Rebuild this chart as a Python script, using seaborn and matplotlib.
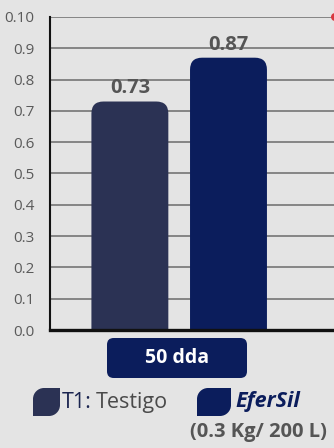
import matplotlib
matplotlib.use("Agg")
import matplotlib.pyplot as plt
import seaborn as sns
import pandas as pd
from matplotlib.patches import FancyBboxPatch, PathPatch, Circle
from matplotlib.path import Path
from matplotlib.transforms import Affine2D

categories = ["T1: Testigo", "EferSil"]
values = [0.73, 0.87]
value_labels = ["0.73", "0.87"]
yticks = [0.0, 0.1, 0.2, 0.3, 0.4, 0.5, 0.6, 0.7, 0.8, 0.9, 1.0]
ytick_labels = ["0.0", "0.1", "0.2", "0.3", "0.4", "0.5", "0.6", "0.7", "0.8", "0.9", "0.10"]
group_label = "50 dda"
dose_label = "(0.3 Kg/ 200 L)"
colors = ["#2b3254", "#0b1d5c"]
bg = "#e4e4e4"

sns.set_theme(style="white")
plt.rcParams["font.family"] = ["Open Sans", "DejaVu Sans"]

W, H = 334, 448
fig = plt.figure(figsize=(W/100, H/100), dpi=100, facecolor=bg)
ax = fig.add_axes([50/W, 1-330/H, 1-50/W, (330-17)/H])
ax.set_facecolor(bg)

df = pd.DataFrame({"cat": categories, "val": values})
sns.barplot(data=df, x="cat", y="val", hue="cat", palette=colors, width=0.78,
            legend=False, ax=ax, zorder=3, saturation=1)

ax.set_xlim(-0.81, 2.07)
ax.set_ylim(0, 1.0)
ax.set_yticks(yticks)
ax.set_yticklabels(ytick_labels, color="#5a5a5a", fontsize=11)
ax.tick_params(axis="y", length=0, pad=11)
ax.set_xticks([])
ax.set_xlabel("")
ax.set_ylabel("")
ax.yaxis.grid(True, color="#858585", lw=1.4, zorder=0)
ax.set_axisbelow(True)
for s in ["top", "right"]:
    ax.spines[s].set_visible(False)
ax.spines["left"].set_color("#111111")
ax.spines["left"].set_linewidth(1.5)
ax.spines["bottom"].set_color("#111111")
ax.spines["bottom"].set_linewidth(2.4)
ax.spines["bottom"].set_zorder(5)

# round bar tops
fig.canvas.draw()
bbox = ax.get_window_extent()
xr = ax.get_xlim()[1] - ax.get_xlim()[0]
yr = ax.get_ylim()[1] - ax.get_ylim()[0]
x_per_px = xr / bbox.width
y_per_px = yr / bbox.height
aspect = y_per_px / x_per_px
for p, lab in zip(list(ax.patches), value_labels):
    x0, w, h = p.get_x(), p.get_width(), p.get_height()
    fc = p.get_facecolor()
    p.remove()
    r = 12 * x_per_px
    fb = FancyBboxPatch((x0, -0.1), w, h + 0.1,
                        boxstyle=f"round,pad=0,rounding_size={r}",
                        mutation_aspect=aspect, fc=fc, ec="none", zorder=3)
    ax.add_patch(fb)
    fb.set_clip_path(ax.patch)
    ax.text(x0 + w/2, h + 0.01, lab, ha="center", va="bottom", fontsize=14.5,
            fontweight="bold", color="#555555", zorder=4)

# small red dot at right edge
fig.patches.append(Circle((W + 1, H - 17), 4, transform=None, fc="#d8383f", ec="none"))

# group label box
bx0, by0, bw, bh = 107/W, 1-378/H, 140/W, 40/H
fig.patches.append(FancyBboxPatch((bx0, by0), bw, bh, boxstyle="round,pad=0,rounding_size=0.02",
                                  transform=fig.transFigure, fc="#0b1d5c", ec="none",
                                  mutation_aspect=W/H))
fig.text(bx0 + bw/2, by0 + bh/2, group_label, ha="center", va="center", color="white",
         fontsize=14, fontweight="bold")

# legend leaf markers (pixel coords, y downward from top)
def leaf(x, y, w, h, c, r=11):
    # corners in display coords (y up)
    L, R = x, x + w
    T, B = H - y, H - (y + h)
    k = 0.55
    verts = [
        (L, B), (L, T - r),
        (L, T - r + r*k), (L + r - r*k, T), (L + r, T),
        (R, T), (R, B + r),
        (R, B + r - r*k), (R - r + r*k, B), (R - r, B),
        (L, B), (L, B)
    ]
    codes = [Path.MOVETO, Path.LINETO,
             Path.CURVE4, Path.CURVE4, Path.CURVE4,
             Path.LINETO, Path.LINETO,
             Path.CURVE4, Path.CURVE4, Path.CURVE4,
             Path.LINETO, Path.CLOSEPOLY]
    fig.patches.append(PathPatch(Path(verts, codes), transform=None, fc=c, ec="none"))

leaf(33, 388, 27, 28, colors[0])
t1 = fig.text(62/W, 1-402/H, "T1:", ha="left", va="center", color="#1b2550", fontsize=15.5)
fig.canvas.draw()
ext = t1.get_window_extent()
fig.text((ext.x1 + 4)/W, 1-402/H, "Testigo", ha="left", va="center", color="#4a4a4a", fontsize=15.5)
leaf(197, 388, 34, 28, colors[1])
fig.text(235/W, 1-401/H, categories[1], ha="left", va="center", color="#0b1d5c",
         fontsize=15.5, fontweight="bold", fontstyle="italic")
fig.text(190/W, 1-432/H, dose_label, ha="left", va="center", color="#555555",
         fontsize=14.5, fontweight="bold")

fig.savefig("out.png", dpi=100, facecolor=bg)
